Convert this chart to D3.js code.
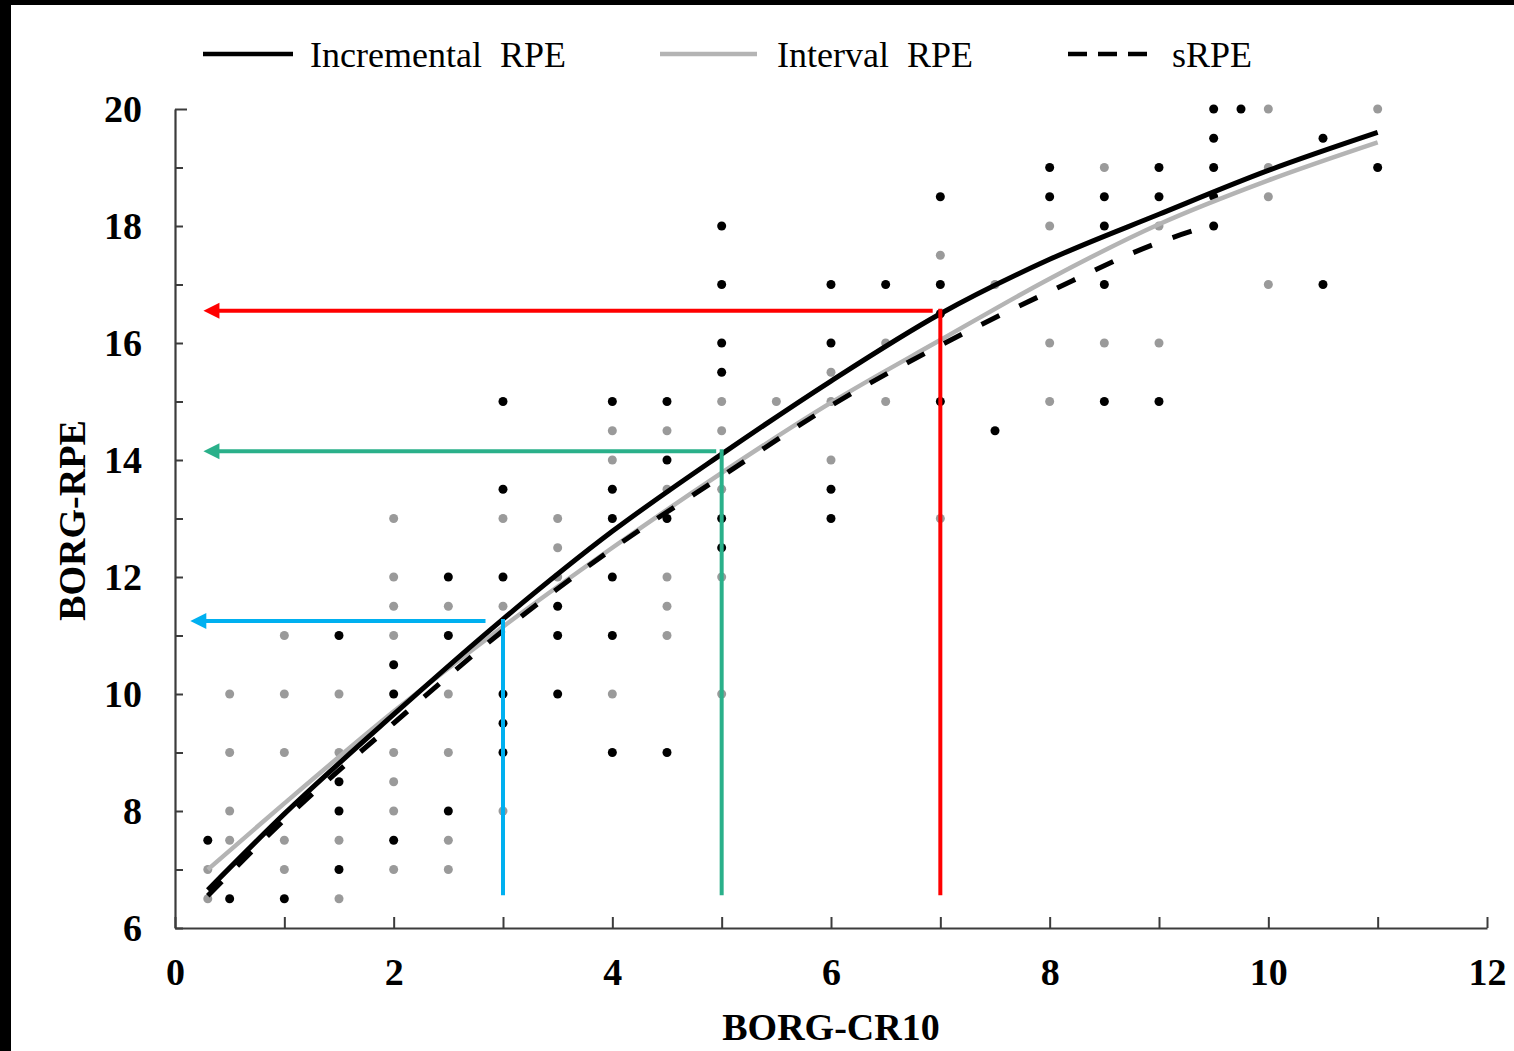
<!DOCTYPE html>
<html>
<head>
<meta charset="utf-8">
<script src="https://cdn.jsdelivr.net/npm/d3@7"></script>
<style>
  html, body { margin: 0; padding: 0; background: #000; }
  svg { display: block; }
  text { font-family: "Liberation Serif", "Times New Roman", serif; }
</style>
</head>
<body>
<script>
// Fitted curves: [BORG-CR10, BORG-RPE]
const incrementalCurve = [[0.3,6.65],[1,7.95],[2,9.65],[3,11.28],[4,12.78],[5,14.1],[6,15.35],[7,16.5],[8,17.43],[9,18.2],[10,18.95],[11,19.6]];
const intervalCurve    = [[0.3,7.0],[1,8.13],[2,9.7],[3,11.15],[4,12.5],[5,13.78],[6,14.98],[7,16.05],[8,17.1],[9,18.03],[10,18.78],[11,19.43]];
const sessionCurve     = [[0.3,6.55],[1,7.85],[2,9.5],[3,11.08],[4,12.48],[5,13.72],[6,14.93],[7,15.96],[8,16.88],[9,17.72],[9.5,18.03]];

// Individual observations (black and grey markers)
const blackPoints = [[0.3,7.5],[0.5,6.5],[1,6.5],[1.5,11],[1.5,8.5],[1.5,8],[1.5,7],
  [2,10.5],[2,10],[2,7.5],[2.5,12],[2.5,11],[2.5,8],
  [3,15],[3,13.5],[3,12],[3,10],[3,9.5],[3,9],
  [3.5,11.5],[3.5,11],[3.5,10],
  [4,15],[4,13.5],[4,13],[4,12],[4,11],[4,9],
  [4.5,15],[4.5,14],[4.5,13],[4.5,9],
  [5,18],[5,17],[5,16],[5,15.5],[5,13],[5,12.5],
  [6,17],[6,16],[6,13.5],[6,13],[6.5,17],
  [7,18.5],[7,17],[7,16.5],[7,15],[7.5,14.5],
  [8,19],[8,18.5],[8.5,18.5],[8.5,18],[8.5,17],[8.5,15],
  [9,19],[9,18.5],[9,15],
  [9.5,20],[9.5,19.5],[9.5,19],[9.5,18.5],[9.5,18],[9.75,20],
  [10.5,19.5],[10.5,17],[11,19]];
const greyPoints = [[0.3,7],[0.3,6.5],[0.5,10],[0.5,9],[0.5,8],[0.5,7.5],
  [1,11],[1,10],[1,9],[1,7.5],[1,7],
  [1.5,10],[1.5,9],[1.5,7.5],[1.5,6.5],
  [2,13],[2,12],[2,11.5],[2,11],[2,9],[2,8.5],[2,8],[2,7],
  [2.5,11.5],[2.5,10],[2.5,9],[2.5,7.5],[2.5,7],
  [3,13],[3,11.5],[3,8],[3.5,13],[3.5,12.5],[3.5,12],
  [4,14.5],[4,14],[4,10],
  [4.5,14.5],[4.5,13.5],[4.5,12],[4.5,11.5],[4.5,11],
  [5,15],[5,14.5],[5,13.5],[5,12],[5,10],[5.5,15],
  [6,15.5],[6,15],[6,14],[6.5,16],[6.5,15],
  [7,17.5],[7,13],[7.5,17],
  [8,18],[8,16],[8,15],[8.5,19],[8.5,16],[9,18],[9,16],
  [10,20],[10,19],[10,18.5],[10,17],[11,20]];

// Reading guides: CR10 value -> RPE value, with arrow end on the y side
const guideCR10 = [3, 5, 7];
const guideRPE = [11.25, 14.15, 16.55];
const guideArrowEnd = [0.14, 0.26, 0.26];
const guideTurn = [2.84, 4.95, 6.93];
const guideColors = ["#00b0f0", "#2ab08a", "#ff0000"];
const guideBase = 6.56;

const xTicks = d3.range(0, 13, 1);
const yTicks = d3.range(6, 21, 1);
const legendItems = ["Incremental  RPE", "Interval  RPE", "sRPE"];

const W = 1514, H = 1051;
const svg = d3.select("body").append("svg").attr("width", W).attr("height", H);
svg.append("rect").attr("x", 11).attr("y", 5).attr("width", W - 11).attr("height", H - 5).attr("fill", "#fff");

const x = d3.scaleLinear().domain([0, 12]).range([175, 1487]);
const y = d3.scaleLinear().domain([6, 20]).range([928, 109]);

// Markers
svg.append("g").selectAll("circle").data(greyPoints).join("circle")
  .attr("cx", d => x(d[0])).attr("cy", d => y(d[1])).attr("r", 4.5).attr("fill", "#9a9a9a");
svg.append("g").selectAll("circle").data(blackPoints).join("circle")
  .attr("cx", d => x(d[0])).attr("cy", d => y(d[1])).attr("r", 4.5).attr("fill", "#000");

// Curves
const line = d3.line().x(d => x(d[0])).y(d => y(d[1])).curve(d3.curveMonotoneX);
svg.append("path").attr("d", line(intervalCurve)).attr("fill", "none")
  .attr("stroke", "#b4b4b4").attr("stroke-width", 4.5);
svg.append("path").attr("d", line(sessionCurve)).attr("fill", "none")
  .attr("stroke", "#000").attr("stroke-width", 5).attr("stroke-dasharray", "20 22");
svg.append("path").attr("d", line(incrementalCurve)).attr("fill", "none")
  .attr("stroke", "#000").attr("stroke-width", 5);

// Axes
const xAxis = d3.axisBottom(x).tickValues(xTicks).tickSizeInner(-11).tickSizeOuter(0).tickPadding(30)
  .tickFormat(d => d % 2 === 0 ? d : "");
const gx = svg.append("g").attr("transform", `translate(0,${y(6)})`).call(xAxis);
const yAxis = d3.axisLeft(y).tickValues(yTicks).tickSizeInner(-8).tickSizeOuter(0).tickPadding(33)
  .tickFormat(d => d % 2 === 0 ? d : "");
const gy = svg.append("g").attr("transform", `translate(${x(0)},0)`).call(yAxis);
[gx, gy].forEach(g => {
  g.select(".domain").attr("stroke", "#3c3c3c").attr("stroke-width", 2.2);
  g.selectAll(".tick line").attr("stroke", "#3c3c3c").attr("stroke-width", 2);
  g.selectAll(".tick text").attr("fill", "#000").attr("font-size", 38).attr("font-weight", "bold")
    .attr("font-family", "'Liberation Serif', serif");
});
gy.select(".tick:last-of-type line").attr("x2", 12);

// Axis titles
svg.append("text").attr("x", (x(0) + x(12)) / 2).attr("y", 1040).attr("text-anchor", "middle")
  .attr("font-size", 38).attr("font-weight", "bold").text("BORG-CR10");
svg.append("text").attr("transform", `translate(85,${(y(6) + y(20)) / 2 + 2}) rotate(-90)`)
  .attr("text-anchor", "middle").attr("font-size", 38).attr("font-weight", "bold").text("BORG-RPE");

// Reading guides with arrows
guideCR10.forEach((cr, i) => {
  const c = guideColors[i];
  const g = svg.append("g");
  g.append("line").attr("x1", x(cr)).attr("x2", x(cr)).attr("y1", y(guideBase)).attr("y2", y(guideRPE[i]) - 2)
    .attr("stroke", c).attr("stroke-width", 4);
  g.append("line").attr("x1", x(guideTurn[i])).attr("x2", x(guideArrowEnd[i]) + 12)
    .attr("y1", y(guideRPE[i])).attr("y2", y(guideRPE[i])).attr("stroke", c).attr("stroke-width", 4);
  const tx = x(guideArrowEnd[i]), ty = y(guideRPE[i]);
  g.append("path").attr("d", `M${tx},${ty}L${tx + 16},${ty - 8}L${tx + 16},${ty + 8}Z`).attr("fill", c);
});

// Legend
const legendX = [203, 660, 1068];
const legendLen = [90, 97, 87];
const legendTextX = [310, 777, 1172];
const legendStyles = [
  { stroke: "#000", dash: null },
  { stroke: "#b4b4b4", dash: null },
  { stroke: "#000", dash: "19 11" }
];
legendItems.forEach((t, i) => {
  const ly = 54;
  svg.append("line").attr("x1", legendX[i]).attr("x2", legendX[i] + legendLen[i]).attr("y1", ly).attr("y2", ly)
    .attr("stroke", legendStyles[i].stroke).attr("stroke-width", 4.5)
    .attr("stroke-dasharray", legendStyles[i].dash);
  svg.append("text").attr("x", legendTextX[i]).attr("y", ly + 13).attr("font-size", 36)
    .style("white-space", "pre").attr("fill", "#000").text(t);
});
</script>
</body>
</html>
